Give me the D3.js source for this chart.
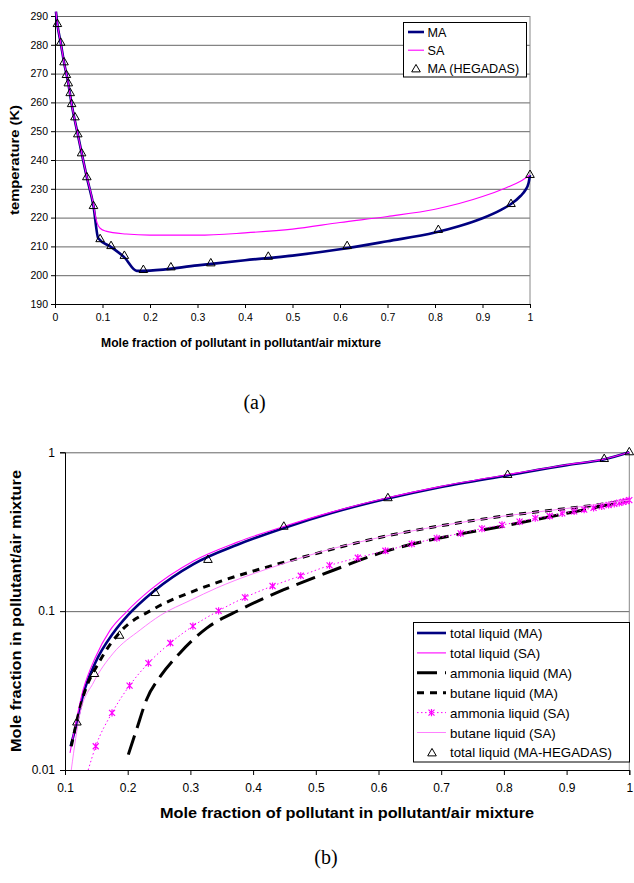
<!DOCTYPE html>
<html lang="en">
<head>
<meta charset="UTF-8">
<script src="https://cdn.jsdelivr.net/npm/d3@7/dist/d3.min.js"></script>
<title>Pollutant/air mixture</title>
<style>
  body { margin: 0; background: #fff; }
  svg { display: block; font-family: "Liberation Sans", Arial, sans-serif; }
</style>
</head>
<body>
<svg id="chart" width="634" height="883"></svg>
<script>
  /* DATA - (a) temperature */
  const topX_MA = [0.002, 0.005, 0.012, 0.019, 0.028, 0.035, 0.048, 0.067, 0.081, 0.091, 0.118, 0.146, 0.172, 0.2, 0.3, 0.4, 0.5, 0.6, 0.7, 0.8, 0.85, 0.9, 0.94, 0.96, 0.98, 0.99, 0.997, 1.0];
  const topT_MA = [291.5, 287.2, 280.7, 273.9, 266.6, 259.4, 248.9, 234.0, 224.0, 212.8, 209.8, 206.2, 201.5, 201.6, 203.4, 205.2, 206.8, 209.0, 211.8, 214.8, 217.0, 219.8, 222.8, 224.7, 227.5, 229.5, 232.0, 234.8];
  const topX_SA = [0.002, 0.005, 0.012, 0.019, 0.028, 0.035, 0.048, 0.067, 0.081, 0.084, 0.089, 0.095, 0.107, 0.15, 0.2, 0.3, 0.4, 0.5, 0.6, 0.7, 0.8, 0.9, 0.95, 0.98, 1.0];
  const topT_SA = [291.5, 287.2, 280.7, 273.9, 266.6, 259.4, 248.9, 234.2, 224.3, 221.5, 218.0, 216.3, 215.3, 214.3, 213.9, 213.9, 214.7, 216.0, 218.3, 220.4, 222.9, 227.3, 230.4, 232.6, 234.8];
  const topX_HEG = [0.005, 0.012, 0.019, 0.024, 0.028, 0.032, 0.035, 0.042, 0.048, 0.056, 0.067, 0.081, 0.095, 0.118, 0.146, 0.186, 0.244, 0.328, 0.449, 0.615, 0.807, 0.96, 1.0];
  const topT_HEG = [287.2, 280.7, 273.9, 269.5, 266.6, 263.2, 259.4, 254.8, 248.9, 242.3, 234.0, 224.0, 212.5, 210.1, 206.7, 201.8, 202.7, 204.1, 206.4, 210.1, 215.7, 224.7, 234.8];
  const topXTicks = [0, 0.1, 0.2, 0.3, 0.4, 0.5, 0.6, 0.7, 0.8, 0.9, 1];
  const topYTicks = [190, 200, 210, 220, 230, 240, 250, 260, 270, 280, 290];
  const topLegend = ["MA", "SA", "MA (HEGADAS)"];

  /* DATA - (b) liquid mole fraction */
  const totMA_x = [0.109, 0.12, 0.129, 0.148, 0.177, 0.2, 0.241, 0.305, 0.375, 0.448, 0.525, 0.613, 0.7, 0.805, 0.9, 0.959, 1.0];
  const totMA_y = [0.0141, 0.0207, 0.0298, 0.047, 0.0728, 0.094, 0.133, 0.198, 0.262, 0.333, 0.415, 0.51, 0.605, 0.715, 0.83, 0.9, 1.0];
  const totSA_x = [0.108, 0.129, 0.148, 0.172, 0.198, 0.236, 0.305, 0.375, 0.45, 0.525, 0.613, 0.7, 0.805, 0.9, 0.959, 1.0];
  const totSA_y = [0.0128, 0.032, 0.0507, 0.076, 0.099, 0.136, 0.207, 0.272, 0.342, 0.42, 0.515, 0.61, 0.722, 0.835, 0.905, 1.0];
  const ammMA_x = [0.201, 0.214, 0.23, 0.252, 0.283, 0.326, 0.379, 0.448, 0.507, 0.619, 0.7, 0.794, 0.9, 0.927, 1.0];
  const ammMA_y = [0.0125, 0.0179, 0.0277, 0.0388, 0.0544, 0.0782, 0.102, 0.136, 0.168, 0.243, 0.29, 0.34, 0.413, 0.434, 0.5];
  const butMA_x = [0.11, 0.129, 0.156, 0.188, 0.241, 0.31, 0.35, 0.411, 0.48, 0.6, 0.7, 0.794, 0.9, 0.927, 1.0];
  const butMA_y = [0.0141, 0.029, 0.049, 0.074, 0.103, 0.136, 0.155, 0.184, 0.219, 0.29, 0.345, 0.394, 0.443, 0.455, 0.5];
  const ammSA_x = [0.137, 0.149, 0.175, 0.203, 0.233, 0.268, 0.304, 0.345, 0.387, 0.431, 0.476, 0.522, 0.567, 0.611, 0.653, 0.693, 0.731, 0.765, 0.797, 0.825, 0.85, 0.873, 0.893, 0.912, 0.928, 0.943, 0.956, 0.967, 0.976, 0.984, 0.99, 0.995, 1.0];
  const ammSA_y = [0.01, 0.0141, 0.0229, 0.034, 0.0471, 0.063, 0.0805, 0.1005, 0.122, 0.144, 0.167, 0.194, 0.217, 0.24, 0.265, 0.288, 0.309, 0.331, 0.349, 0.366, 0.385, 0.397, 0.413, 0.425, 0.436, 0.447, 0.457, 0.466, 0.474, 0.481, 0.487, 0.493, 0.5];
  const butSA_x = [0.11, 0.124, 0.145, 0.177, 0.22, 0.252, 0.3, 0.342, 0.4, 0.45, 0.48, 0.6, 0.7, 0.794, 0.9, 1.0];
  const butSA_y = [0.01, 0.0228, 0.0353, 0.0544, 0.0762, 0.094, 0.117, 0.14, 0.172, 0.2, 0.219, 0.29, 0.345, 0.394, 0.443, 0.5];
  const hegB_x = [0.119, 0.147, 0.187, 0.244, 0.328, 0.449, 0.615, 0.806, 0.96, 1.0];
  const hegB_y = [0.0199, 0.0402, 0.070, 0.130, 0.210, 0.340, 0.514, 0.72, 0.907, 1.0];
  const botXTicks = [0.1, 0.2, 0.3, 0.4, 0.5, 0.6, 0.7, 0.8, 0.9, 1];
  const botYTicks = [0.01, 0.1, 1];
  const botLegend = ["total liquid (MA)", "total liquid (SA)", "ammonia liquid (MA)", "butane liquid (MA)", "ammonia liquid (SA)", "butane liquid (SA)", "total liquid (MA-HEGADAS)"];

  const zip = (xs, ys) => xs.map((x, i) => ({x: x, y: ys[i]}));
  const triangle = d3.symbol(d3.symbolTriangle, 32);
  const asterisk = "M-3,-3L3,3M-3,3L3,-3M0,-3.6L0,3.6";

  let svg = d3.select("#chart");

  /* ===== (a) ===== */
  let xA = d3.scaleLinear().domain([0, 1]).range([55, 530]);
  let yA = d3.scaleLinear().domain([190, 290]).range([304, 16]);
  let gA = svg.append("g");

  // gridlines
  gA.append("g")
    .attr("transform", "translate(55,0)")
    .call(d3.axisLeft(yA).tickValues(topYTicks.slice(1)).tickSize(-475).tickFormat(""))
    .call(g => g.select(".domain").remove())
    .call(g => g.selectAll("line").attr("stroke", "#666"));
  gA.append("line").attr("x1", 530).attr("x2", 530).attr("y1", 16).attr("y2", 304).attr("stroke", "#888");

  let axA_y = gA.append("g")
    .attr("transform", "translate(55,0)")
    .call(d3.axisLeft(yA).tickValues(topYTicks).tickSize(4).tickPadding(3).tickFormat(d3.format("d")));
  let axA_x = gA.append("g")
    .attr("transform", "translate(0,304)")
    .call(d3.axisBottom(xA).tickValues(topXTicks).tickSize(4).tickPadding(6).tickFormat(d => String(d)));
  [axA_y, axA_x].forEach(a => a.attr("font-size", 10.5).attr("font-family", null).selectAll("text").attr("fill", "#000"));

  let lineA = d3.line().x(d => xA(d.x)).y(d => yA(d.y)).curve(d3.curveMonotoneX);
  gA.append("path").datum(zip(topX_MA, topT_MA)).attr("d", lineA)
    .attr("fill", "none").attr("stroke", "#000080").attr("stroke-width", 2.6);
  gA.append("path").datum(zip(topX_SA, topT_SA)).attr("d", lineA)
    .attr("fill", "none").attr("stroke", "#ff00ff").attr("stroke-width", 1.1);
  gA.selectAll(".hegA").data(zip(topX_HEG, topT_HEG)).enter().append("path")
    .attr("d", triangle)
    .attr("transform", d => `translate(${xA(d.x)},${yA(d.y)})`)
    .attr("fill", "none").attr("stroke", "#000").attr("stroke-width", 1);

  gA.append("text").text("Mole fraction of pollutant in pollutant/air mixture")
    .attr("x", 101).attr("y", 347).attr("font-size", 12).attr("font-weight", "bold")
    .attr("textLength", 280).attr("lengthAdjust", "spacingAndGlyphs");
  gA.append("text").text("temperature (K)")
    .attr("transform", "translate(19,215) rotate(-90)").attr("font-size", 12.5).attr("font-weight", "bold")
    .attr("textLength", 110).attr("lengthAdjust", "spacingAndGlyphs");

  // legend (a)
  let legA = gA.append("g");
  legA.append("rect").attr("x", 403.5).attr("y", 22.5).attr("width", 123).attr("height", 54.5)
    .attr("fill", "#fff").attr("stroke", "#000");
  topLegend.forEach((t, i) => {
    let cy = 32 + i * 18.2;
    if (i < 2) {
      legA.append("line").attr("x1", 408).attr("x2", 424).attr("y1", cy).attr("y2", cy)
        .attr("stroke", i == 0 ? "#000080" : "#ff00ff").attr("stroke-width", i == 0 ? 2.6 : 1.1);
    } else {
      legA.append("path").attr("d", triangle).attr("transform", `translate(416,${cy + 1})`)
        .attr("fill", "none").attr("stroke", "#000");
    }
    legA.append("text").text(t).attr("x", 427.5).attr("y", cy + 4.5).attr("font-size", 12.6);
  });

  svg.append("text").text("(a)").attr("x", 254.5).attr("y", 409).attr("text-anchor", "middle")
    .attr("font-family", "'Liberation Serif', 'Times New Roman', serif").attr("font-size", 20);

  /* ===== (b) ===== */
  let xB = d3.scaleLinear().domain([0.1, 1]).range([65, 629.3]);
  let yB = d3.scaleLog().domain([0.01, 1]).range([770, 452.3]);
  let gB = svg.append("g");

  gB.append("g")
    .attr("transform", "translate(65,0)")
    .call(d3.axisLeft(yB).tickValues([0.1, 1]).tickSize(-564.3).tickFormat(""))
    .call(g => g.select(".domain").remove())
    .call(g => g.selectAll("line").attr("stroke", "#666"));
  gB.append("line").attr("x1", 629.3).attr("x2", 629.3).attr("y1", 452.3).attr("y2", 770).attr("stroke", "#888");

  let axB_y = gB.append("g")
    .attr("transform", "translate(65,0)")
    .call(d3.axisLeft(yB).tickValues(botYTicks).tickSize(5).tickPadding(5).tickFormat(d => String(d)));
  let axB_x = gB.append("g")
    .attr("transform", "translate(0,770)")
    .call(d3.axisBottom(xB).tickValues(botXTicks).tickSize(5).tickPadding(8).tickFormat(d => String(d)));
  [axB_y, axB_x].forEach(a => a.attr("font-size", 12).attr("font-family", null).selectAll("text").attr("fill", "#000"));

  let lineB = d3.line().x(d => xB(d.x)).y(d => yB(d.y)).curve(d3.curveMonotoneX);
  const seriesB = [
    {x: totMA_x, y: totMA_y, color: "#000080", width: 2.6, dash: null},
    {x: totSA_x, y: totSA_y, color: "#ff00ff", width: 1.1, dash: null},
    {x: ammMA_x, y: ammMA_y, color: "#000", width: 3, dash: "20,8"},
    {x: butMA_x, y: butMA_y, color: "#000", width: 3, dash: "7,6"},
    {x: ammSA_x, y: ammSA_y, color: "#ff00ff", width: 1, dash: "1.5,2.5", star: true},
    {x: butSA_x, y: butSA_y, color: "#ff80ff", width: 1, dash: null}
  ];
  seriesB.forEach(s => {
    let pts = zip(s.x, s.y);
    gB.append("path").datum(pts).attr("d", lineB)
      .attr("fill", "none").attr("stroke", s.color).attr("stroke-width", s.width)
      .attr("stroke-dasharray", s.dash);
    if (s.star) {
      gB.selectAll(null).data(pts.slice(1)).enter().append("path")
        .attr("d", asterisk)
        .attr("transform", d => `translate(${xB(d.x)},${yB(d.y)})`)
        .attr("fill", "none").attr("stroke", s.color).attr("stroke-width", 1.2);
    }
  });
  gB.selectAll(".hegB").data(zip(hegB_x, hegB_y)).enter().append("path")
    .attr("d", triangle)
    .attr("transform", d => `translate(${xB(d.x)},${yB(d.y)})`)
    .attr("fill", "none").attr("stroke", "#000").attr("stroke-width", 1);

  gB.append("text").text("Mole fraction of pollutant in pollutant/air mixture")
    .attr("x", 160).attr("y", 817.5).attr("font-size", 15).attr("font-weight", "bold")
    .attr("textLength", 374).attr("lengthAdjust", "spacingAndGlyphs");
  gB.append("text").text("Mole fraction in pollutant/air mixture")
    .attr("transform", "translate(21,752) rotate(-90)").attr("font-size", 15).attr("font-weight", "bold")
    .attr("textLength", 282).attr("lengthAdjust", "spacingAndGlyphs");

  // legend (b)
  let legB = gB.append("g");
  legB.append("rect").attr("x", 413.5).attr("y", 622.5).attr("width", 216).attr("height", 139.5)
    .attr("fill", "#fff").attr("stroke", "#000");
  botLegend.forEach((t, i) => {
    let cy = 633 + i * 19.9;
    if (i < 6) {
      let s = seriesB[i];
      legB.append("line").attr("x1", 417).attr("x2", 446).attr("y1", cy).attr("y2", cy)
        .attr("stroke", s.color).attr("stroke-width", s.width).attr("stroke-dasharray", s.dash);
      if (s.star) {
        legB.append("path").attr("d", asterisk).attr("transform", `translate(431.5,${cy})`)
          .attr("fill", "none").attr("stroke", s.color).attr("stroke-width", 1.2);
      }
    } else {
      legB.append("path").attr("d", triangle).attr("transform", `translate(432,${cy + 1})`)
        .attr("fill", "none").attr("stroke", "#000");
    }
    legB.append("text").text(t).attr("x", 450).attr("y", cy + 5).attr("font-size", 13.3);
  });

  svg.append("text").text("(b)").attr("x", 326).attr("y", 864).attr("text-anchor", "middle")
    .attr("font-family", "'Liberation Serif', 'Times New Roman', serif").attr("font-size", 20);
</script>
</body>
</html>
